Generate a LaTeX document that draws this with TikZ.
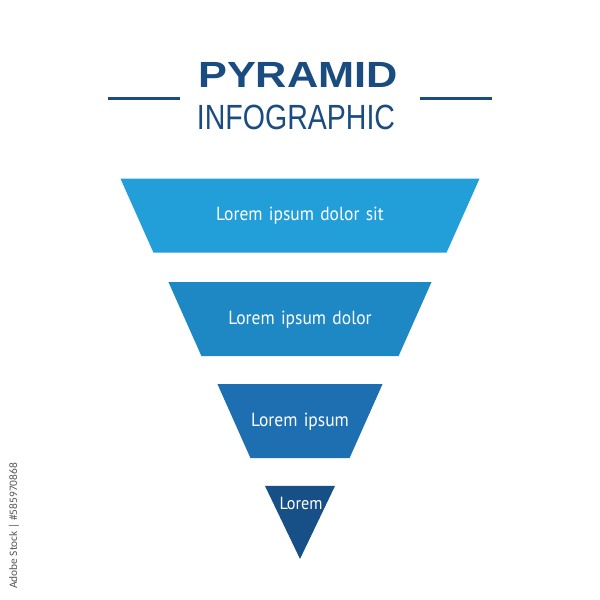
\documentclass[tikz,border=0pt]{standalone}
\usepackage{fontspec}
\setmainfont{PT Sans}[FakeStretch=0.92]
\newfontfamily\ttlwide{Liberation Sans}[FakeStretch=1.19]
\newfontfamily\ttlnarrow{Liberation Sans}[FakeStretch=0.815]
\newfontfamily\stockfont{Carlito}
\usetikzlibrary{shapes.geometric}

\definecolor{ttlblue}{HTML}{1B4C80}
\definecolor{lvlone}{HTML}{229ED8}
\definecolor{lvltwo}{HTML}{1E88C4}
\definecolor{lvlthree}{HTML}{1D6FB2}
\definecolor{lvlfour}{HTML}{165087}

\begin{document}
\begin{tikzpicture}[x=0.5pt, y=-0.5pt, lvl/.style={trapezium, shape border rotate=180, trapezium angle=66, inner xsep=0pt, inner ysep=14pt, text height=7pt, text depth=2pt, align=center, text=white, font=\fontsize{9.5}{11}\selectfont}, tip/.style={isosceles triangle, shape border rotate=270, isosceles triangle stretches, inner sep=0pt, minimum width=35pt, minimum height=36.5pt}, rule/.style={ttlblue, line width=1.5pt}]
                \path[fill=white, use as bounding box] (0,0) rectangle (600,600);
                % title
                \node[text=ttlblue, font=\ttlwide\bfseries\fontsize{18.2}{20}\selectfont] (pyr) at (298,75) {PYRAMID};
                \node[text=ttlblue, font=\ttlnarrow\fontsize{17.5}{20}\selectfont] (info) at (296,117) {INFOGRAPHIC};
                \coordinate (l1) at (108,98);
                \coordinate (l2) at (180,98);
                \coordinate (r1) at (420,98);
                \coordinate (r2) at (492,98);
                \draw[rule] (l1) -- (l2);
                \draw[rule] (r1) -- (r2);
                % levels
                \node[lvl, fill=lvlone, text width=146.6pt] (one) at (300,215.5) {Lorem ipsum dolor sit};
                \node[lvl, fill=lvltwo, text width=98.6pt] (two) at (300,319) {Lorem ipsum dolor};
                \node[lvl, fill=lvlthree, text width=49.6pt] (three) at (300,421) {Lorem ipsum};
                \node[tip, fill=lvlfour, anchor=apex] (four) at (300,560) {};
                \node[text=white, font=\fontsize{8.8}{10}\selectfont] (fourtxt) at (301,503) {Lorem};
                % stock id
                \node[rotate=90, text=black!65, font=\stockfont\fontsize{5.7}{6}\selectfont] (id) at (14,526) {Adobe Stock | \#585970868};
            \end{tikzpicture}
\end{document}
